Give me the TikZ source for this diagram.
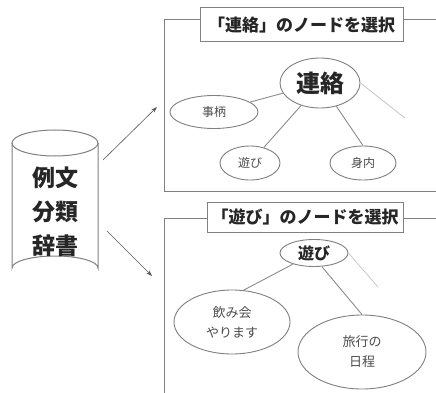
\documentclass[tikz,border=0pt]{standalone}
\usepackage{fontspec}
\setmainfont{Noto Sans CJK JP}
\usetikzlibrary{shapes.geometric,arrows.meta}
\begin{document}
\begin{tikzpicture}[x=1pt,y=-1pt,
  ln/.style={draw=black!45,line width=0.9pt},
  faint/.style={draw=black!22,line width=0.8pt},
  frame/.style={draw=black!50,line width=1pt},
  ttl/.style={draw=black!50,line width=1pt,fill=white,inner sep=0pt,font=\bfseries\fontsize{17}{17}\selectfont,text=black!85},
  el/.style={ellipse,draw=black!50,line width=0.9pt,fill=white,inner sep=0pt,align=center,text=black!70},
  arr/.style={draw=black!65,line width=0.6pt,-{Stealth[length=6pt,width=4pt]}}]
\useasboundingbox (0,0) rectangle (436,393);
\clip (0,0) rectangle (436,393);
\fill[white] (0,0) rectangle (436,393);
% cylinder
\draw[draw=black!50,line width=1pt] (12,143) -- (12,268) arc[start angle=180,end angle=360,x radius=43,y radius=12] -- (98,143);
\draw[draw=black!50,line width=1pt] (55,143) ellipse[x radius=43,y radius=13];
\node[align=center,font=\bfseries\fontsize{23}{34}\selectfont,text=black!85] (db) at (55,212) {例文\\分類\\辞書};
% arrows
\coordinate (a1s) at (103,160); \coordinate (a1e) at (157,107);
\coordinate (a2s) at (107,231); \coordinate (a2e) at (152,276);
\draw[arr] (a1s) -- (a1e);
\draw[arr] (a2s) -- (a2e);
% top frame
\draw[frame] (450,20) -- (164,20) -- (164,191) -- (450,191);
\node[ttl,minimum width=203pt,minimum height=34pt] (t1) at (301.5,25) {「連絡」のノードを選択};
\node[el,minimum width=80pt,minimum height=50pt,font=\bfseries\fontsize{24}{24}\selectfont,text=black!85] (r) at (320,83) {連絡};
\node[el,minimum width=88pt,minimum height=33pt,font=\fontsize{12}{12}\selectfont] (k) at (214,112) {事柄};
\node[el,minimum width=60pt,minimum height=34pt,font=\fontsize{12}{12}\selectfont] (a) at (250,163) {遊び};
\node[el,minimum width=66pt,minimum height=34pt,font=\fontsize{12}{12}\selectfont] (m) at (363,163) {身内};
\coordinate (rf) at (405,118);
\draw[ln] (r) -- (k);
\draw[ln] (r.230) -- (a);
\draw[ln] (r.305) -- (m.north);
\draw[faint] (r.east) -- (rf);
% bottom frame
\draw[frame] (450,218) -- (164,218) -- (164,400);
\node[ttl,minimum width=196pt,minimum height=30pt] (t2) at (305,217) {「遊び」のノードを選択};
\node[el,minimum width=68pt,minimum height=27pt,font=\bfseries\fontsize{16}{16}\selectfont,text=black!85] (b) at (314,253) {遊び};
\node[el,minimum width=116pt,minimum height=64pt,font=\fontsize{13}{20}\selectfont] (n) at (232,322) {飲み会\\やります};
\node[el,minimum width=128pt,minimum height=74pt,font=\fontsize{13}{20}\selectfont] (t) at (362,352) {旅行の\\日程};
\coordinate (bf) at (378,287);
\draw[ln] (b) -- (n.70);
\draw[ln] (b.300) -- (t.north);
\draw[faint] (b.east) -- (bf);
\end{tikzpicture}
\end{document}
